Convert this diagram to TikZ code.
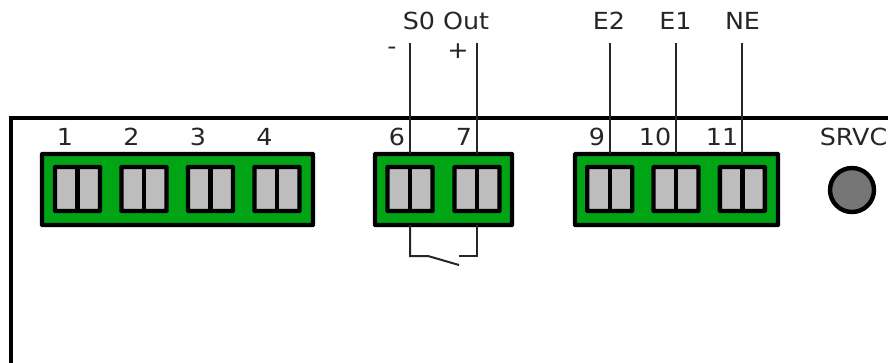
\documentclass[tikz,border=0pt]{standalone}
\usepackage{fontspec}
\setmainfont[FakeStretch=1.08]{DejaVu Sans}
\definecolor{boardgreen}{HTML}{00A414}
\definecolor{termgrey}{HTML}{BDBDBD}
\definecolor{ledgrey}{HTML}{767676}
\begin{document}
\begin{tikzpicture}[x=1pt,y=-1pt,
  frame/.style={draw=black,line width=4.4pt,line join=miter},
  wire/.style={draw=black!85,line width=2pt},
  board/.style={draw=black,fill=boardgreen,line width=4.4pt,rounded corners=0.6pt,inner sep=0pt,outer sep=0pt,anchor=north west},
  term/.style={draw=black,fill=termgrey,line width=4.4pt,rounded corners=0.6pt,inner sep=0pt,outer sep=0pt,minimum width=45pt,minimum height=44pt,anchor=center},
  divider/.style={draw=black,line width=4.4pt},
  lab/.style={font=\fontsize{23.5}{24}\selectfont,text=black!85,inner sep=0pt,anchor=center}]
\useasboundingbox (0,0) rectangle (888,362);
\fill[white] (0,0) rectangle (888,362);
\draw[frame] (11,364) -- (11,118) -- (890,118);
% boards
\node[board,minimum width=271pt,minimum height=71pt] (b1) at (42,154) {};
\node[board,minimum width=137pt,minimum height=71pt] (b2) at (375,154) {};
\node[board,minimum width=203pt,minimum height=71pt] (b3) at (575,154) {};
% terminals
\foreach \n/\x in {t1/77.5,t2/144,t3/210.5,t4/277,t6/410,t7/477,t9/609.7,t10/676,t11/742.3}{
  \node[term] (\n) at (\x,189) {};
  \draw[divider] (\n.north) -- (\n.south);
}
% top wires
\foreach \n/\x/\b in {a/410/b2,c/477/b2,d/609.7/b3,e/676/b3,f/742.3/b3}{
  \coordinate (\n top) at (\x,43);
  \coordinate (\n bot) at (\x,154);
  \draw[wire] (\n top) -- (\n bot);
}
% switch loop
\coordinate (sw1) at (410,225);
\coordinate (sw2) at (410,256);
\coordinate (sw3) at (428,256);
\coordinate (sw4) at (459,265);
\coordinate (sw5) at (459,256);
\coordinate (sw6) at (477,256);
\coordinate (sw7) at (477,225);
\draw[wire,line join=miter] (sw1) -- (sw2) -- (sw3) -- (sw4);
\draw[wire,line join=miter] (sw5) -- (sw6) -- (sw7);
% service button
\node[circle,draw=black,fill=ledgrey,line width=4.4pt,minimum size=44pt,inner sep=0pt] (srvc) at (852,190) {};
% labels
\node[lab] (l1) at (65,137) {1};
\node[lab] (l2) at (131.5,137) {2};
\node[lab] (l3) at (198,137) {3};
\node[lab] (l4) at (264.5,137) {4};
\node[lab] (l6) at (397,137) {6};
\node[lab] (l7) at (464,137) {7};
\node[lab] (l9) at (597,137) {9};
\node[lab] (l10) at (655,137) {10};
\node[lab] (l11) at (722,137) {11};
\node[lab] (lsrvc) at (853.5,137) {SRVC};
\node[lab] (ls0) at (446,21) {S0 Out};
\node[lab] (lm) at (392,51) {-};
\node[lab] (lp) at (458,51) {+};
\node[lab] (le2) at (609,21) {E2};
\node[lab] (le1) at (675.5,21) {E1};
\node[lab] (lne) at (742.5,21) {NE};
\end{tikzpicture}
\end{document}
